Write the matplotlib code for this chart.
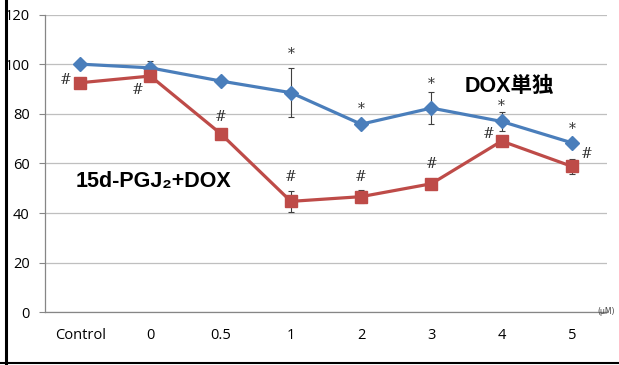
import matplotlib.pyplot as plt
import numpy as np
from matplotlib.lines import Line2D

categories = ["Control", "0", "0.5", "1", "2", "3", "4", "5"]
dox_alone = [100, 98.5, 93.2, 88.5, 75.8, 82.3, 76.9, 68.3]
dox_alone_err = [0, 2.6, 0.5, 10.0, 1.0, 6.5, 4.0, 1.0]
pgj_dox = [92.5, 95.2, 72.0, 44.7, 46.6, 51.8, 69.0, 58.8]
pgj_dox_err = [0, 0, 1.5, 4.3, 2.5, 1.0, 1.0, 3.0]

# significance marks: (x position in category units, y value)
star_marks = [(3, 104), (4, 81.8), (5, 92), (6, 83.3), (7, 73.7)]
hash_marks = [(-0.21, 93.7), (0.82, 89.7), (2.0, 78.7), (3, 54.5), (4, 54.5),
              (5, 59.8), (5.82, 71.8), (7.21, 63.7)]

blue = "#4A7EBB"
red = "#BE4B48"
tick_font = "Open Sans"

fig = plt.figure(figsize=(6.19, 3.65), dpi=100)
ax = fig.add_axes([45 / 619, 1 - 312.3 / 365, 562 / 619, 297.8 / 365])

x = np.arange(len(categories))

ax.errorbar(x, dox_alone, yerr=dox_alone_err, color=blue, lw=2.3, marker="D", ms=7.5,
            ecolor="#404040", elinewidth=0.8, capsize=2.5, capthick=0.8, zorder=3)
ax.errorbar(x, pgj_dox, yerr=pgj_dox_err, color=red, lw=2.3, marker="s", ms=8.5,
            ecolor="#404040", elinewidth=0.8, capsize=2.5, capthick=0.8, zorder=4)

for xs, ys in star_marks:
    ax.text(xs, ys, "*", ha="center", va="center", fontsize=10, color="#333333",
            family="DejaVu Serif", zorder=5)
for xs, ys in hash_marks:
    ax.text(xs, ys, "#", ha="center", va="center", fontsize=10, color="#333333",
            family="DejaVu Serif", zorder=5)

ax.text(-0.07, 52.8, "15d-PGJ\u2082+DOX", ha="left", va="center", fontsize=15.5,
        fontweight="bold", family=["Liberation Sans", "DejaVu Sans"], zorder=5)
ax.text(5.48, 91.0, "DOX単独", ha="left", va="center", fontsize=15.5,
        fontweight="bold", family=["Liberation Sans", "Noto Sans CJK JP"], zorder=5)

ax.set_xlim(-0.5, len(categories) - 0.5)
ax.set_ylim(0, 120)
ax.set_yticks(np.arange(0, 121, 20))
ax.set_xticks(x)
ax.set_xticklabels(categories)
ax.yaxis.grid(True, color="#BFBFBF", lw=0.9)
ax.set_axisbelow(True)

for side in ["top", "right"]:
    ax.spines[side].set_visible(False)
for side in ["left", "bottom"]:
    ax.spines[side].set_color("#868686")
    ax.spines[side].set_linewidth(0.9)

ax.tick_params(axis="y", length=4, color="#868686", pad=7, labelsize=10.5)
ax.tick_params(axis="x", length=0, pad=11, labelsize=10.5)
for lab in ax.get_xticklabels() + ax.get_yticklabels():
    lab.set_family(tick_font)

fig.text(597 / 619, 1 - 312 / 365, "(μM)", fontsize=5.5, ha="left", va="center",
         color="#404040", family="DejaVu Sans")

# black frame on left and bottom of the image
fig.add_artist(Line2D([5.5 / 619, 5.5 / 619], [0, 1], color="black", lw=2.2))
fig.add_artist(Line2D([0, 1], [2 / 365, 2 / 365], color="black", lw=1.5))

plt.savefig("out.png", dpi=100)
